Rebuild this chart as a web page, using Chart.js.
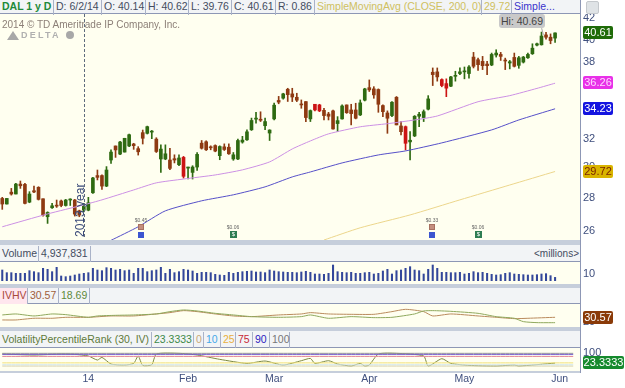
<!DOCTYPE html>
<html><head><meta charset="utf-8">
<script src="https://cdn.jsdelivr.net/npm/chart.js@4"></script>
<style>
html,body{margin:0;padding:0;background:#fff;overflow:hidden}
#root{position:relative;width:625px;height:388px;font-family:"Liberation Sans",Arial,sans-serif;overflow:hidden}
#root div,#root canvas{position:absolute}
.plot{left:0;width:580px;background:#fffff0}
.strip{left:0;width:580px;background:#f2f4f6}
.sep{left:0;width:580px;background:#c6cedb}
.cell{box-sizing:border-box;height:16px;line-height:15px;font-size:10.5px;white-space:nowrap;padding-left:2px;border-right:1px solid #a9b2c8;color:#444c60}
.tag{left:583px;height:13px;line-height:13px;font-size:11px;text-align:center;border-radius:2px}
.tiny{font-size:5px;color:#666;text-align:center;width:20px;line-height:5px}
</style></head><body>
<div id="root"></div>
<script>
const opens=[27.97,27.62,28.37,28.25,28.89,28.87,27.74,28.46,28.68,27.95,26.84,27.39,27.55,27.81,27.53,27.87,27.87,27.2,27.24,27.24,28.33,29.45,29.45,28.76,30.5,31.48,30.91,31.05,31.48,31.62,31.29,32.44,32.39,32.48,31.97,30.57,30.57,30.5,30.59,30.18,30.68,29.95,29.66,30.02,31.68,31.78,31.42,31.51,30.8,31.42,31.39,30.57,30.57,31.76,31.92,32.65,33.44,33.41,32.95,32.41,33.46,34.88,35.06,35.77,35.4,35.13,34.58,34.79,33.46,34.58,34.53,34.11,33.83,34.07,33.11,33.46,34.53,34.14,34.14,33.76,34.9,35.9,35.8,35.75,34.48,33.91,33.71,35.13,32.93,32.88,31.77,32.2,33.66,33.56,34.2,37.17,37.2,36.56,36.23,36.02,36.83,37.06,37.2,37.06,38.46,38.23,38.09,37.86,37.78,38.64,38.69,38.2,37.95,38.43,37.75,38.03,38.4,38.75,39.51,39.54,40.43,40.22,40.14];
const highs=[28.04,27.97,28.61,28.94,29.09,28.94,28.4,28.76,28.72,27.95,27.14,27.66,27.87,27.87,27.91,27.95,27.91,27.24,27.66,28.04,29.33,29.82,29.49,30.05,31.2,31.48,31.81,32.03,32.34,31.67,31.43,32.63,32.92,32.6,32.07,31.56,31.56,31.32,30.86,30.86,30.75,30.02,30.11,31.02,31.87,31.85,31.49,31.56,31.49,31.63,31.63,31.02,31.97,32.17,32.65,33.52,33.95,34.0,33.52,32.65,34.67,35.2,35.45,35.85,35.85,35.45,34.92,34.79,34.14,34.58,34.58,34.27,33.96,34.14,33.63,34.53,34.53,34.58,34.66,34.92,35.85,36.53,35.98,35.8,34.53,34.07,34.79,35.19,33.26,32.93,32.51,33.71,33.96,34.14,35.26,37.53,37.53,36.62,36.62,36.83,37.25,37.53,37.61,37.72,38.87,38.37,38.52,38.09,38.81,39.1,38.87,38.37,38.17,38.81,38.52,38.52,38.81,39.63,39.69,40.69,40.66,40.52,40.62];
const lows=[27.29,27.62,28.18,28.25,28.61,27.62,27.7,28.33,27.87,26.88,26.44,27.35,27.41,27.45,27.49,27.53,26.88,26.84,27.14,27.2,28.29,29.16,28.55,28.72,30.27,30.68,30.87,31.05,31.43,31.24,30.84,31.62,32.34,32.0,31.02,29.66,30.52,29.84,30.3,30.11,29.28,29.22,29.22,29.8,31.26,31.16,31.21,31.07,30.52,31.16,30.89,30.48,30.52,31.68,31.87,32.6,33.14,33.26,32.65,31.87,33.38,34.62,34.98,34.8,34.79,34.79,34.27,33.26,33.26,34.07,34.01,33.38,33.38,32.69,32.51,33.43,33.88,33.01,33.46,33.71,34.84,35.59,35.05,33.96,33.63,32.39,33.63,33.01,32.27,31.2,30.5,32.15,32.88,33.26,34.14,36.07,36.43,35.97,35.18,35.97,36.43,36.97,36.62,36.67,37.53,37.33,37.39,36.97,37.72,38.46,38.17,37.39,37.45,37.61,37.5,37.95,38.34,38.69,39.45,39.51,40.05,39.63,39.76];
const closes=[27.62,27.97,28.25,28.89,28.78,27.66,28.25,28.38,27.91,26.94,27.1,27.51,27.49,27.53,27.87,27.91,27.0,26.94,27.49,27.7,29.29,29.33,28.76,29.82,31.05,31.2,31.76,32.03,32.29,31.5,31.07,32.03,32.88,32.53,31.09,31.26,30.93,29.93,30.5,30.64,29.4,30.02,30.02,30.89,31.32,31.21,31.35,31.12,31.44,31.23,30.93,30.86,31.87,31.9,32.5,33.34,33.52,33.36,33.26,32.63,34.51,34.75,35.4,35.34,35.15,34.9,34.53,33.56,34.09,34.14,34.07,33.71,33.66,32.71,33.33,34.45,33.93,33.86,33.51,34.69,35.8,35.72,35.32,34.58,34.01,33.51,34.74,33.01,32.51,31.67,31.89,33.66,33.81,34.01,35.0,36.97,36.78,36.07,35.86,36.78,36.89,37.2,37.28,37.61,37.67,37.81,37.72,37.72,38.69,38.81,38.52,38.12,38.06,37.67,38.4,38.46,38.69,39.24,39.63,40.33,40.22,39.92,40.61];
const brightDown=[40,69,70,89,97,98];
const ma50Days=[0,10,18,22,29,34,40,47,53,59,64,68,72,79,85,91,96,105,112,118,122];
const ma50Vals=[26.24,27.01,27.57,27.88,28.51,28.97,29.22,29.49,29.83,30.37,31.27,31.84,32.35,32.87,33.1,33.38,33.68,34.78,35.26,35.84,36.26];
const ma100Days=[24,30,36,44,51,58,64,68,75,83,89,97,108,114,122];
const ma100Vals=[25.45,26.24,27.2,27.82,28.2,28.71,29.36,29.69,30.3,30.85,31.13,31.7,32.64,33.38,34.23];
const ma200Days=[71,79,90,101,112,122];
const ma200Vals=[25.47,26.18,26.95,27.88,28.83,29.72];
const volumes=[16,12,12,11,11,11,15,13.5,12,18.5,17,13.5,20,7,6,7,8.5,10,11,12,18.5,16,15,19.5,18.5,16,17,15,16,11,18.5,18.5,13.5,15,16,20,11,17,12,13.5,17,16,14.5,11,12.5,12.5,12,9.5,8.5,8,12.5,11,12.5,13.5,14,14.5,13,13,12,16,14.5,13.5,13,12.5,12.5,12,13,14,12.5,10,10,9.5,11,23.5,13.5,12.5,12,12.5,11,11,12,12.5,10,11,14.5,17,10,15,16,18.5,21,16,15,10,17,23.5,18.5,12.5,12.5,12,12,12.5,10,11,13.5,12,12.5,11,9.5,8.5,9,11,12,10,9.5,9,8.5,8.5,9,10,10.5,7.5,4.94];
const ivDays=[0,3,7,11,14,19,24,29,34,37,40,43,47,51,55,61,66,68,72,77,82,86,89,93,95,99,105,109,113,116,122];
const ivVals=[24.7,24.7,28.4,28.4,30.5,30.5,33.5,33.5,37.9,40.8,45.2,43,37.9,33.5,32,35.7,37.9,40.8,37.9,37.1,37.1,43,48.1,43,33.5,37.9,33.5,30.5,27.6,28.4,30.57];
const hvDays=[0,3,7,11,14,19,21,25,29,34,37,40,43,47,51,55,61,66,68,72,77,82,86,91,93,95,99,105,109,113,115,118,122];
const hvVals=[35.7,37.9,33.5,37.9,36.4,30.5,33.5,34.9,35.7,37.9,43,46.7,44.5,39.3,35.7,32,30.5,32,35.7,28.4,32,29.8,30.5,37.9,44.5,45.2,43.7,39.3,32,28.4,21,18.8,18.69];
const vprDays=[0,7,13,16,19,21,22,24,27,29,30,31,33,34,39,43,48,54,58,62,66,68,69,72,74,77,79,80,81,83,87,93,94,97,99,103,109,113,114,122];
const vprVals=[94.7,86.8,94.7,92,79,47,68,16,8,21,79,5,10.5,94.7,100,86.8,52.6,21,39.5,8,42,60,21,42,16,0,21,0,8,94.7,100,79,0,58,21,5,0,8,0,23.33];
const vprLevels=[100,90,75,25,10,0];
const vprLevelColors=['#8d8d9a','#7a5fd0','#e8909c','#f2e27a','#cfe6ee','#d8d0a8'];
const mainTicks=[26,28,30,32,34,36,38,40,42];
const volTicks=[10], ivTicks=[20], vprTicks=[100];
const monthTicks={19:'14',41:'Feb',60:'Mar',81:'Apr',102:'May',123:'Jun'};
const yearLineDay=18;
const slotCount=128;

const root=document.getElementById('root');
function box(cls,l,t,w,h,css,txt){const d=document.createElement('div');d.className=cls;
 d.style.cssText+=`left:${l}px;top:${t}px;`+(w!=null?`width:${w}px;`:'')+(h!=null?`height:${h}px;`:'')+(css||'');
 if(txt!=null)d.textContent=txt;root.appendChild(d);return d;}
[[0,14,226],[0,262,22],[0,304,23],[0,348,23]].forEach(p=>box('plot',0,p[1],580,p[2]));
[[0,14],[245,17],[288,16],[331,17]].forEach(p=>box('strip',0,p[0],580,p[1],'border-bottom:1px solid #8d97b5;box-sizing:border-box'));
[[240,5],[284,4],[327,4],[371,2]].forEach(p=>box('sep',0,p[0],580,p[1]));
box('',580,0,1,373,'background:#8d97b5');
function cells(top,list){list.forEach(c=>box('cell',c[0],top,c[1],null,`color:${c[3]||'#444c60'};${c[4]||''}`,c[2]));}
cells(-1,[[0,54,'DAL 1 y D','#1e8a3a','font-weight:bold;'],[54,48,'D: 6/2/14'],[102,44,'O: 40.14'],[146,43,'H: 40.62'],[189,43,'L: 39.76'],[232,44,'C: 40.61'],[276,39,'R: 0.86'],[315,167,'SimpleMovingAvg (CLOSE, 200, 0)','#cfc060'],[482,30,'29.72','#cfc060'],[512,68,'Simple...','#3a33cc','border-right:none;']]);
cells(246,[[0,39,'Volume'],[39,52,'4,937,831'],[532,48,'<millions>','#444c60','border-right:none;font-size:10px;']]);
cells(288,[[0,28,'IVHV','#a8483a','background:#ffe6ee;'],[28,31,'30.57','#a0603a'],[59,31,'18.69','#5e8a3a']]);
cells(332,[[0,152,'VolatilityPercentileRank (30, IV)','#5e7a3a'],[152,42,'23.3333','#3e8a4a'],[194,10,'0','#c8a878'],[204,17,'10','#44a8e8'],[221,15,'25','#e8b040'],[236,17,'75','#c82838'],[253,17,'90','#2a20c0'],[270,20,'100','#777']]);

function mk(top,h){const c=document.createElement('canvas');c.width=625;c.height=h;c.style.cssText=`left:0;top:${top}px;width:625px;height:${h}px`;root.appendChild(c);return c;}
const N=opens.length;
const slots=Array.from({length:slotCount},(_,i)=>String(i));
function sparse(days,vals){const a=new Array(N).fill(null);days.forEach((d,i)=>a[d]=vals[i]);return a;}
const fit=s=>{s.width=45;s.paddingTop=0;s.paddingBottom=0;s.paddingLeft=0;s.paddingRight=0;};
function yAxis(type,min,max,ticks){return {type,position:'right',min,max,afterFit:fit,
 afterBuildTicks:s=>{s.ticks=ticks.map(v=>({value:v}));},
 grid:{display:false,drawTicks:false},border:{display:false},
 ticks:{padding:3,color:'#3f4f7e',font:{family:'"Liberation Sans"',size:11},autoSkip:false,maxRotation:0,callback:v=>String(v)}};}
function xHidden(){return {type:'category',display:false,offset:true,grid:{display:false}};}
const base={responsive:false,animation:false,maintainAspectRatio:false,layout:{padding:0},
 plugins:{legend:{display:false},tooltip:{enabled:false}},events:[]};
const col=i=>closes[i]>=opens[i]?'#2f6b12':(brightDown.includes(i)?'#cc1414':'#8e3a12');
const line=(data,color,w)=>({type:'line',data,borderColor:color,borderWidth:w||1,pointRadius:0,spanGaps:true,tension:0.2,yAxisID:'y'});
const yearLine={id:'yearLine',afterDatasetsDraw(ch){const x=Math.round(ch.scales.x.getPixelForValue(yearLineDay))+0.5,c=ch.ctx;
 c.save();c.strokeStyle='#5f6b7c';c.setLineDash([3,2]);c.lineWidth=1;c.beginPath();c.moveTo(x,ch.chartArea.top);c.lineTo(x,ch.chartArea.bottom-1);c.stroke();c.restore();}};
new Chart(mk(14,226),{type:'bar',plugins:[yearLine],data:{labels:slots,datasets:[
 line(sparse(ma200Days,ma200Vals),'#ecd68c'),
 line(sparse(ma100Days,ma100Vals),'#5650c8'),
 line(sparse(ma50Days,ma50Vals),'#cc90e4'),
 {data:lows.map((l,i)=>[l,highs[i]]),backgroundColor:opens.map((_,i)=>col(i)),barThickness:1,grouped:false,borderWidth:0},
 {data:opens.map((o,i)=>[o,closes[i]]),backgroundColor:opens.map((_,i)=>col(i)),barThickness:3,grouped:false,minBarLength:1,borderWidth:0}
]},options:{...base,scales:{x:xHidden(),y:yAxis('logarithmic',25.47,42.38,mainTicks)}}});
new Chart(mk(262,22),{type:'bar',data:{labels:slots,datasets:[{data:volumes,backgroundColor:'#33479a',barThickness:1.4}]},
 options:{...base,scales:{x:xHidden(),y:yAxis('linear',-5,28,volTicks)}}});
new Chart(mk(304,23),{type:'line',data:{labels:slots,datasets:[line(sparse(hvDays,hvVals),'#8ea85c'),line(sparse(ivDays,ivVals),'#b98a5c')]},
 options:{...base,scales:{x:xHidden(),y:yAxis('linear',9.2,59.8,ivTicks)}}});
new Chart(mk(348,40),{type:'line',data:{labels:slots,datasets:[
 ...vprLevels.map((v,k)=>({...line(new Array(slotCount-1).fill(v),vprLevelColors[k]),tension:0})),
 line(sparse(vprDays,vprVals),'#7d8a42')]},
 options:{...base,scales:{
  x:{type:'category',offset:true,grid:{display:false,drawTicks:false},border:{display:false},afterFit:s=>{s.height=17;s.paddingLeft=0;s.paddingRight=0;},
     ticks:{autoSkip:false,maxRotation:0,minRotation:0,padding:2,color:'#3f4f7e',font:{family:'"Liberation Sans"',size:10.5},callback:(v,i)=>monthTicks[i]||''}},
  y:yAxis('linear',-39,142,vprTicks)}}});

box('',73,0,null,null,'top:187px;height:50px;width:14px;writing-mode:vertical-rl;transform:rotate(180deg);font-size:12px;line-height:14px;color:#3a4a7a;white-space:nowrap;','2013 year');
box('',2,18,null,null,'font-size:10px;color:#8d8078;white-space:nowrap;line-height:14px','2014 © TD Ameritrade IP Company, Inc.');
box('',7,31,0,0,'border-left:6px solid transparent;border-right:6px solid transparent;border-bottom:9px solid #a8a8a8');
box('',21,30,null,null,'font-size:9px;font-weight:bold;color:#b0b0b0;letter-spacing:2.2px;white-space:nowrap;line-height:11px','DELTA');
box('',66,31,8,8,'border-radius:50%;background:#a8a8a8');
box('',499,14,46,14,'background:#c9c9c9;border-radius:3px;font-size:10.5px;line-height:14px;text-align:center;color:#444;white-space:nowrap','Hi: 40.69');
box('',542,28,1,7,'background:#aaa;transform:rotate(-15deg)');
box('',586,1,11,11,'background:#dfe3e6;border:1px solid #c4c8cc;border-radius:2px');
[[26,'#1f6b08','#fff',30,'40.61'],[76,'#e830e8','#ffd8ff',30,'36.26'],[102,'#1414e0','#fff',30,'34.23'],[165,'#d9b400','#7a2400',30,'29.72'],[311,'#8a3a08','#fff',30,'30.57'],[356,'#168a2e','#fff',41,'23.3333']].forEach(t=>box('tag',583,t[0],t[3],13,`background:${t[1]};color:${t[2]}`,t[4]));
[[141,'$0.45'],[432,'$0.33']].forEach(m=>{box('tiny',m[0]-10,218,null,null,'',m[1]);
 box('',m[0]-3,224,6,6,'background:#c48e7e;border:1px solid #a87060;box-sizing:border-box');
 box('',m[0]-3,232,6,6,'background:#3c55d0');});
[[233,'$0.06'],[478,'$0.06']].forEach(m=>{box('tiny',m[0]-10,225,null,null,'',m[1]);
 box('',m[0]-3,231,7,7,'background:#2e7d52;color:#fff;font-size:6px;line-height:7px;text-align:center','$');});
</script>
</body></html>
